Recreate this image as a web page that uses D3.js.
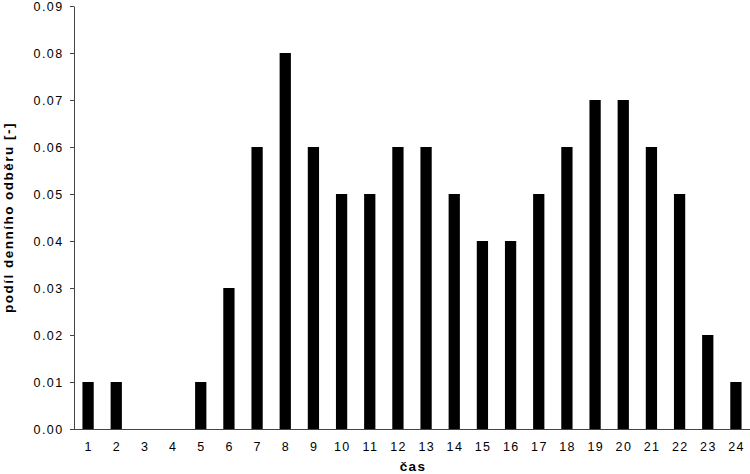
<!DOCTYPE html>
<html>
<head>
<meta charset="utf-8">
<script src="https://d3js.org/d3.v7.min.js"></script>
<style>
    body { margin: 0; background: #fff; }
    svg text { font-family: "Liberation Sans", Arial, sans-serif; }
</style>
</head>
<body>
<div id="chart"></div>
<script>
const hours = ['1','2','3','4','5','6','7','8','9','10','11','12','13','14','15','16','17','18','19','20','21','22','23','24'];
const shares = [0.01, 0.01, 0, 0, 0.01, 0.03, 0.06, 0.08, 0.06, 0.05, 0.05, 0.06, 0.06, 0.05, 0.04, 0.04, 0.05, 0.06, 0.07, 0.07, 0.06, 0.05, 0.02, 0.01];
const yTicks = [0, 0.01, 0.02, 0.03, 0.04, 0.05, 0.06, 0.07, 0.08, 0.09];

const width = 750, height = 474;
const plot = { left: 74, right: 750, top: 6, bottom: 429 };

const svg = d3.select('#chart').append('svg')
    .attr('width', width)
    .attr('height', height);

const x = d3.scaleBand()
    .domain(hours)
    .range([plot.left, plot.right])
    .paddingInner(0.6)
    .paddingOuter(0.3);

const y = d3.scaleLinear()
    .domain([0, 0.09])
    .range([plot.bottom, plot.top]);

// bars
svg.selectAll('.bar')
    .data(hours.map((h, i) => ({ h, v: shares[i] })))
    .enter().append('rect')
    .attr('class', 'bar')
    .attr('x', d => x(d.h))
    .attr('y', d => y(d.v))
    .attr('width', x.bandwidth())
    .attr('height', d => plot.bottom - y(d.v))
    .attr('fill', '#000');

// y axis
const yAxis = svg.append('g')
    .attr('transform', `translate(${plot.left},0)`)
    .call(d3.axisLeft(y).tickValues(yTicks).tickFormat(d3.format('.2f')).tickSize(4).tickSizeOuter(0));
yAxis.select('.domain').attr('stroke', '#444');
yAxis.selectAll('.tick line').attr('stroke', '#444');
yAxis.selectAll('.tick text')
    .attr('font-size', 12.5)
    .attr('letter-spacing', '1.4px')
    .attr('fill', '#000')
    .attr('x', -10.5);

// x axis
const xAxis = svg.append('g')
    .attr('transform', `translate(0,${plot.bottom})`)
    .call(d3.axisBottom(x).tickSize(0).tickSizeOuter(0));
xAxis.select('.domain').attr('stroke', '#444').attr('d', `M${plot.left - 3},0.5H${plot.right}`);
xAxis.selectAll('.tick text')
    .attr('font-size', 12.5)
    .attr('letter-spacing', '1.4px')
    .attr('fill', '#000')
    .attr('dx', '0.7')
    .attr('dy', '1.5em');

// axis titles
svg.append('text')
    .attr('x', (plot.left + plot.right) / 2 + 1)
    .attr('y', 471)
    .attr('text-anchor', 'middle')
    .attr('font-size', 13.5)
    .attr('font-weight', 'bold')
    .attr('letter-spacing', '1.3px')
    .text('čas');

svg.append('text')
    .attr('transform', `translate(13,${(plot.top + plot.bottom) / 2}) rotate(-90)`)
    .attr('text-anchor', 'middle')
    .attr('font-size', 13.5)
    .attr('font-weight', 'bold')
    .attr('letter-spacing', '1.5px')
    .text('podíl denního odběru [-]');
</script>
</body>
</html>
